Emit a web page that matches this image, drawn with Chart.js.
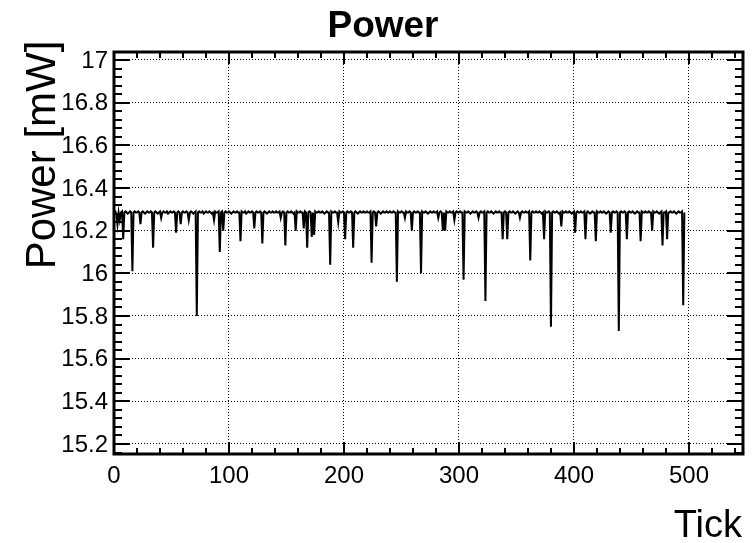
<!DOCTYPE html>
<html>
<head>
<meta charset="utf-8">
<script src="https://cdn.jsdelivr.net/npm/chart.js@4.4.1/dist/chart.umd.min.js"></script>
<style>
  body { margin: 0; background: #fff; }
  canvas { display: block; }
</style>
</head>
<body>
<canvas id="c" width="752" height="543"></canvas>
<script>
// Data: power per tick
var power = [
  16.285,16.29,16.28,16.23,16.285,16.25,16.285,16.29,16.16,16.285,16.29,16.285,16.28,16.285,16.29,16.285,16.01,16.285,16.29,16.285,
  16.285,16.29,16.285,16.23,16.285,16.29,16.285,16.28,16.285,16.29,16.285,16.285,16.29,16.285,16.12,16.285,16.29,16.285,16.28,16.285,
  16.29,16.26,16.285,16.29,16.285,16.285,16.29,16.28,16.285,16.29,16.285,16.285,16.29,16.285,16.19,16.285,16.29,16.285,16.23,16.285,
  16.29,16.285,16.285,16.29,16.285,16.25,16.285,16.29,16.285,16.28,16.285,16.29,15.80,16.285,16.29,16.285,16.285,16.29,16.28,16.285,
  16.29,16.285,16.285,16.29,16.285,16.28,16.285,16.25,16.29,16.285,16.285,16.29,16.10,16.285,16.29,16.20,16.285,16.29,16.285,16.285,
  16.29,16.285,16.28,16.285,16.29,16.285,16.285,16.29,16.285,16.285,16.15,16.29,16.285,16.285,16.29,16.28,16.285,16.29,16.285,16.285,
  16.29,16.285,16.21,16.285,16.29,16.285,16.285,16.29,16.285,16.14,16.285,16.29,16.285,16.28,16.285,16.29,16.285,16.285,16.29,16.285,
  16.285,16.29,16.285,16.285,16.29,16.26,16.285,16.29,16.285,16.13,16.285,16.29,16.285,16.285,16.29,16.285,16.28,16.285,16.20,16.29,
  16.285,16.285,16.29,16.285,16.285,16.21,16.29,16.285,16.12,16.285,16.29,16.285,16.17,16.285,16.18,16.29,16.285,16.285,16.29,16.285,
  16.285,16.29,16.285,16.28,16.285,16.29,16.285,16.285,16.04,16.29,16.285,16.285,16.29,16.285,16.285,16.24,16.29,16.285,16.285,16.29,
  16.285,16.16,16.285,16.29,16.285,16.285,16.29,16.285,16.12,16.285,16.29,16.285,16.28,16.285,16.29,16.285,16.285,16.29,16.285,16.285,
  16.29,16.285,16.285,16.29,16.05,16.285,16.29,16.285,16.22,16.285,16.29,16.285,16.28,16.285,16.29,16.285,16.285,16.29,16.285,16.285,
  16.29,16.285,16.285,16.29,16.285,16.285,15.96,16.29,16.285,16.285,16.29,16.285,16.285,16.26,16.29,16.285,16.285,16.29,16.285,16.20,
  16.285,16.29,16.285,16.285,16.29,16.285,16.285,16.00,16.29,16.285,16.285,16.29,16.285,16.28,16.285,16.29,16.285,16.285,16.29,16.285,
  16.285,16.29,16.26,16.285,16.29,16.285,16.20,16.285,16.20,16.29,16.285,16.285,16.29,16.285,16.285,16.29,16.25,16.285,16.29,16.285,
  16.285,16.29,16.285,16.285,15.97,16.29,16.285,16.285,16.29,16.285,16.28,16.285,16.29,16.285,16.285,16.29,16.285,16.26,16.285,16.29,
  16.285,16.285,16.29,15.87,16.285,16.29,16.285,16.285,16.29,16.285,16.28,16.285,16.29,16.285,16.285,16.29,16.285,16.285,16.16,16.285,
  16.29,16.285,16.16,16.285,16.29,16.285,16.285,16.29,16.285,16.28,16.285,16.29,16.285,16.26,16.285,16.29,16.285,16.285,16.29,16.285,
  16.285,16.29,16.06,16.285,16.29,16.285,16.285,16.29,16.285,16.285,16.29,16.285,16.28,16.285,16.16,16.29,16.285,16.285,16.29,16.285,
  15.75,16.285,16.29,16.285,16.285,16.29,16.285,16.28,16.285,16.22,16.29,16.285,16.285,16.29,16.285,16.285,16.29,16.285,16.28,16.285,
  16.29,16.19,16.285,16.29,16.285,16.285,16.29,16.285,16.285,16.29,16.16,16.285,16.29,16.285,16.28,16.285,16.29,16.285,16.285,16.15,
  16.29,16.285,16.285,16.29,16.285,16.285,16.29,16.285,16.28,16.285,16.29,16.285,16.19,16.285,16.29,16.285,16.285,16.29,16.285,15.73,
  16.285,16.29,16.285,16.285,16.29,16.285,16.16,16.285,16.29,16.285,16.285,16.29,16.285,16.28,16.285,16.29,16.285,16.285,16.15,16.29,
  16.285,16.285,16.29,16.285,16.285,16.29,16.285,16.285,16.20,16.29,16.285,16.285,16.29,16.285,16.28,16.285,16.29,16.13,16.285,16.285,
  16.29,16.16,16.285,16.285,16.29,16.285,16.285,16.29,16.285,16.28,16.285,16.29,16.285,16.285,16.29,15.85,16.285
];
var xTicks = [0, 100, 200, 300, 400, 500];
var xTickLabels = ['0', '100', '200', '300', '400', '500'];
var yTicks = [15.2, 15.4, 15.6, 15.8, 16, 16.2, 16.4, 16.6, 16.8, 17];
var yTickLabels = ['15.2', '15.4', '15.6', '15.8', '16', '16.2', '16.4', '16.6', '16.8', '17'];

var police = 'Liberation Sans, Arial, sans-serif';

// Dessin du cadre, des graduations et des textes facon ROOT
var cadre = {
  id: 'cadre',
  afterDraw: function(chart) {
    var ctx = chart.ctx;
    var a = chart.chartArea;
    var sx = chart.scales.x, sy = chart.scales.y;
    ctx.save();
    ctx.strokeStyle = '#000';
    ctx.fillStyle = '#000';

    // graduations
    ctx.lineWidth = 2;
    ctx.beginPath();
    var v, p;
    for (v = 20; v < sx.max; v += 20) {
      p = Math.round(sx.getPixelForValue(v));
      var lx = (v % 100 === 0) ? 12 : 6;
      ctx.moveTo(p, a.bottom); ctx.lineTo(p, a.bottom - lx);
      ctx.moveTo(p, a.top); ctx.lineTo(p, a.top + lx);
    }
    for (var k = 0; k * 0.04 + 15.16 < sy.max; k++) {
      v = 15.16 + k * 0.04;
      p = Math.round(sy.getPixelForValue(v));
      var ly = (k % 5 === 1) ? 16 : 8;
      ctx.moveTo(a.left, p); ctx.lineTo(a.left + ly, p);
      ctx.moveTo(a.right, p); ctx.lineTo(a.right - ly, p);
    }
    ctx.stroke();

    // cadre
    ctx.lineWidth = 3;
    ctx.strokeRect(a.left, a.top, a.right - a.left, a.bottom - a.top);

    // etiquettes
    ctx.font = '24px ' + police;
    ctx.textAlign = 'right';
    ctx.textBaseline = 'middle';
    for (var i = 0; i < yTicks.length; i++) {
      ctx.fillText(yTickLabels[i], 108, sy.getPixelForValue(yTicks[i]) + 1);
    }
    ctx.textAlign = 'center';
    ctx.textBaseline = 'alphabetic';
    for (i = 0; i < xTicks.length; i++) {
      ctx.fillText(xTickLabels[i], sx.getPixelForValue(xTicks[i]), 483);
    }

    // titres
    ctx.font = 'bold 37px ' + police;
    ctx.fillText('Power', 383, 37);
    ctx.font = '38px ' + police;
    ctx.textAlign = 'right';
    ctx.fillText('Tick', 742, 537);
    ctx.translate(55, 155);
    ctx.rotate(-Math.PI / 2);
    ctx.font = '42px ' + police;
    ctx.textAlign = 'center';
    ctx.fillText('Power [mW]', 0, 0);
    ctx.restore();
  }
};

var graphique = new Chart(document.getElementById('c'), {
  type: 'line',
  data: {
    datasets: [{
      data: power.map(function(y, i) { return { x: i, y: y }; }),
      borderColor: '#000',
      borderWidth: 2,
      pointRadius: 0,
      tension: 0,
      fill: false
    }]
  },
  options: {
    responsive: false,
    animation: false,
    devicePixelRatio: 1,
    layout: { padding: { left: 114, top: 52, right: 9, bottom: 89 } },
    plugins: { legend: { display: false }, tooltip: { enabled: false } },
    scales: {
      x: {
        type: 'linear',
        min: 0,
        max: 547,
        afterBuildTicks: function(s) { s.ticks = xTicks.map(function(t) { return { value: t }; }); },
        afterFit: function(s) { s.height = 0; },
        ticks: { display: false },
        grid: { color: '#000', lineWidth: 1, drawTicks: false },
        border: { display: false, dash: [1, 2] }
      },
      y: {
        min: 15.153,
        max: 17.0375,
        afterBuildTicks: function(s) { s.ticks = yTicks.map(function(t) { return { value: t }; }); },
        afterFit: function(s) { s.width = 0; },
        ticks: { display: false },
        grid: { color: '#000', lineWidth: 1, drawTicks: false },
        border: { display: false, dash: [1, 2] }
      }
    }
  },
  plugins: [cadre]
});
</script>
</body>
</html>
